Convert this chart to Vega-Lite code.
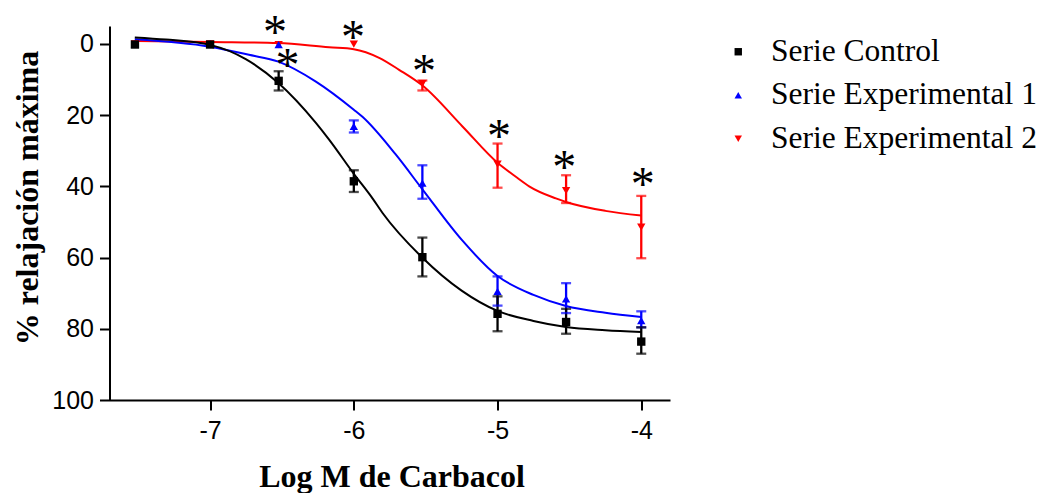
{
  "$schema": "https://vega.github.io/schema/vega-lite/v6.json",
  "width": 560.5,
  "height": 374,
  "autosize": {"type": "none"},
  "padding": {"left": 109.5, "top": 26, "right": 375, "bottom": 93},
  "background": "white",
  "config": {"view": {"stroke": null}},
  "datasets": {
    "curves": [
      {"s": "Serie Experimental 2", "x": -7.524, "y": -0.8},
      {"s": "Serie Experimental 2", "x": -7.0, "y": -0.5},
      {"s": "Serie Experimental 2", "x": -6.525, "y": -0.2},
      {"s": "Serie Experimental 2", "x": -6.172, "y": 1.0},
      {"s": "Serie Experimental 2", "x": -6.0, "y": 1.5},
      {"s": "Serie Experimental 2", "x": -5.82, "y": 4.0},
      {"s": "Serie Experimental 2", "x": -5.685, "y": 7.3},
      {"s": "Serie Experimental 2", "x": -5.52, "y": 11.8},
      {"s": "Serie Experimental 2", "x": -5.244, "y": 23.2},
      {"s": "Serie Experimental 2", "x": -5.0, "y": 33.4},
      {"s": "Serie Experimental 2", "x": -4.863, "y": 37.6},
      {"s": "Serie Experimental 2", "x": -4.78, "y": 40.0},
      {"s": "Serie Experimental 2", "x": -4.594, "y": 43.4},
      {"s": "Serie Experimental 2", "x": -4.524, "y": 44.4},
      {"s": "Serie Experimental 2", "x": -4.25, "y": 46.9},
      {"s": "Serie Experimental 2", "x": -4.0, "y": 48.2},
      {"s": "Serie Experimental 1", "x": -7.524, "y": -1.3},
      {"s": "Serie Experimental 1", "x": -7.0, "y": 0.8},
      {"s": "Serie Experimental 1", "x": -6.73, "y": 3.1},
      {"s": "Serie Experimental 1", "x": -6.525, "y": 5.0},
      {"s": "Serie Experimental 1", "x": -6.264, "y": 10.6},
      {"s": "Serie Experimental 1", "x": -6.0, "y": 18.5},
      {"s": "Serie Experimental 1", "x": -5.94, "y": 20.5},
      {"s": "Serie Experimental 1", "x": -5.71, "y": 31.0},
      {"s": "Serie Experimental 1", "x": -5.52, "y": 41.0},
      {"s": "Serie Experimental 1", "x": -5.25, "y": 55.0},
      {"s": "Serie Experimental 1", "x": -5.0, "y": 65.2},
      {"s": "Serie Experimental 1", "x": -4.75, "y": 70.5},
      {"s": "Serie Experimental 1", "x": -4.524, "y": 73.6},
      {"s": "Serie Experimental 1", "x": -4.25, "y": 75.5},
      {"s": "Serie Experimental 1", "x": -4.0, "y": 76.7},
      {"s": "Serie Control", "x": -7.524, "y": -1.8},
      {"s": "Serie Control", "x": -7.308, "y": -1.2},
      {"s": "Serie Control", "x": -7.0, "y": 0.3},
      {"s": "Serie Control", "x": -6.752, "y": 4.3},
      {"s": "Serie Control", "x": -6.525, "y": 11.0},
      {"s": "Serie Control", "x": -6.264, "y": 22.2},
      {"s": "Serie Control", "x": -6.172, "y": 26.9},
      {"s": "Serie Control", "x": -6.0, "y": 36.5},
      {"s": "Serie Control", "x": -5.87, "y": 43.4},
      {"s": "Serie Control", "x": -5.8, "y": 47.5},
      {"s": "Serie Control", "x": -5.524, "y": 60.0},
      {"s": "Serie Control", "x": -5.25, "y": 69.3},
      {"s": "Serie Control", "x": -5.0, "y": 75.0},
      {"s": "Serie Control", "x": -4.75, "y": 77.8},
      {"s": "Serie Control", "x": -4.524, "y": 79.5},
      {"s": "Serie Control", "x": -4.25, "y": 80.4},
      {"s": "Serie Control", "x": -4.0, "y": 80.9}
    ],
    "pts": [
      {"s": "Serie Experimental 2", "x": -7.523, "y": 0.0},
      {"s": "Serie Experimental 2", "x": -7.0, "y": 0.0},
      {"s": "Serie Experimental 2", "x": -6.523, "y": 0.2},
      {"s": "Serie Experimental 2", "x": -6.0, "y": 0.1},
      {"s": "Serie Experimental 2", "x": -5.523, "y": 11.2},
      {"s": "Serie Experimental 2", "x": -5.0, "y": 33.8},
      {"s": "Serie Experimental 2", "x": -4.523, "y": 41.2},
      {"s": "Serie Experimental 2", "x": -4.0, "y": 51.5},
      {"s": "Serie Experimental 1", "x": -7.523, "y": 0.0},
      {"s": "Serie Experimental 1", "x": -7.0, "y": 0.0},
      {"s": "Serie Experimental 1", "x": -6.523, "y": 0.2},
      {"s": "Serie Experimental 1", "x": -6.0, "y": 23.2},
      {"s": "Serie Experimental 1", "x": -5.523, "y": 39.1},
      {"s": "Serie Experimental 1", "x": -5.0, "y": 69.5},
      {"s": "Serie Experimental 1", "x": -4.523, "y": 71.6},
      {"s": "Serie Experimental 1", "x": -4.0, "y": 77.7},
      {"s": "Serie Control", "x": -7.523, "y": 0.2},
      {"s": "Serie Control", "x": -7.0, "y": 0.2},
      {"s": "Serie Control", "x": -6.523, "y": 10.4},
      {"s": "Serie Control", "x": -6.0, "y": 38.6},
      {"s": "Serie Control", "x": -5.523, "y": 59.9},
      {"s": "Serie Control", "x": -5.0, "y": 75.8},
      {"s": "Serie Control", "x": -4.523, "y": 78.1},
      {"s": "Serie Control", "x": -4.0, "y": 83.6}
    ],
    "err": [
      {"s": "Serie Experimental 2", "x": -5.523, "lo": 10.3, "hi": 13.1},
      {"s": "Serie Experimental 2", "x": -5.0, "lo": 28.0, "hi": 40.4},
      {"s": "Serie Experimental 2", "x": -4.523, "lo": 36.9, "hi": 44.7},
      {"s": "Serie Experimental 2", "x": -4.0, "lo": 42.7, "hi": 60.2},
      {"s": "Serie Experimental 1", "x": -6.0, "lo": 21.5, "hi": 24.9},
      {"s": "Serie Experimental 1", "x": -5.523, "lo": 34.1, "hi": 43.5},
      {"s": "Serie Experimental 1", "x": -5.0, "lo": 65.3, "hi": 73.5},
      {"s": "Serie Experimental 1", "x": -4.523, "lo": 67.2, "hi": 75.6},
      {"s": "Serie Experimental 1", "x": -4.0, "lo": 75.1, "hi": 79.6},
      {"s": "Serie Control", "x": -6.523, "lo": 7.7, "hi": 13.1},
      {"s": "Serie Control", "x": -6.0, "lo": 35.5, "hi": 41.6},
      {"s": "Serie Control", "x": -5.523, "lo": 54.4, "hi": 65.3},
      {"s": "Serie Control", "x": -5.0, "lo": 70.9, "hi": 80.7},
      {"s": "Serie Control", "x": -4.523, "lo": 74.4, "hi": 81.4},
      {"s": "Serie Control", "x": -4.0, "lo": 79.6, "hi": 87.0}
    ],
    "stars": [
      {"x": -6.548, "y": -5.2},
      {"x": -6.462, "y": 3.9},
      {"x": -6.005, "y": -3.8},
      {"x": -5.511, "y": 5.6},
      {"x": -4.989, "y": 23.8},
      {"x": -4.536, "y": 32.7},
      {"x": -3.99, "y": 37.4}
    ]
  },
  "encoding": {
    "x": {
      "field": "x",
      "type": "quantitative",
      "scale": {"domain": [-7.7, -3.8], "nice": false, "zero": false},
      "axis": {
        "values": [-7, -6, -5, -4],
        "labelExpr": "'' + datum.value",
        "grid": false,
        "domainColor": "#000000",
        "domainWidth": 2,
        "tickColor": "#000000",
        "tickWidth": 2,
        "tickSize": 10,
        "labelFont": "Liberation Sans",
        "labelFontSize": 25,
        "labelColor": "#000000",
        "labelPadding": 8,
        "labelFlush": false,
        "title": "Log M de Carbacol",
        "titleFont": "Liberation Serif",
        "titleFontSize": 32,
        "titleFontWeight": "bold",
        "titleColor": "#000000",
        "titleBaseline": "alphabetic",
        "titleAnchor": "middle",
        "titleX": 282,
        "titleY": 86
      }
    },
    "y": {
      "field": "y",
      "type": "quantitative",
      "scale": {"domain": [-5, 100], "nice": false, "zero": false, "reverse": true},
      "axis": {
        "values": [0, 20, 40, 60, 80, 100],
        "labelExpr": "'' + datum.value",
        "grid": false,
        "domainColor": "#000000",
        "domainWidth": 2,
        "tickColor": "#000000",
        "tickWidth": 2,
        "tickSize": 10,
        "labelFont": "Liberation Sans",
        "labelFontSize": 25,
        "labelColor": "#000000",
        "labelPadding": 6,
        "labelFlush": false,
        "title": "% relajación máxima",
        "titleFont": "Liberation Serif",
        "titleFontSize": 32,
        "titleFontWeight": "bold",
        "titleColor": "#000000",
        "titleBaseline": "alphabetic",
        "titleAngle": -90,
        "titleX": -72.5,
        "titleY": 171.5
      }
    }
  },
  "layer": [
    {
      "data": {"name": "curves"},
      "mark": {"type": "line", "interpolate": "monotone", "strokeWidth": 2},
      "encoding": {
        "stroke": {
          "field": "s",
          "type": "nominal",
          "scale": {"domain": ["Serie Experimental 2", "Serie Experimental 1", "Serie Control"], "range": ["#ff0000", "#0000ff", "#000000"]},
          "legend": null
        }
      }
    },
    {
      "data": {"name": "err"},
      "mark": {"type": "rule", "strokeWidth": 2.3},
      "encoding": {
        "y": {"field": "lo", "type": "quantitative", "title": "% relajación máxima"},
        "y2": {"field": "hi"},
        "stroke": {"field": "s", "type": "nominal", "legend": null}
      }
    },
    {
      "data": {"name": "err"},
      "transform": [{"fold": ["lo", "hi"], "as": ["k", "v"]}],
      "mark": {"type": "tick", "orient": "horizontal", "size": 10, "thickness": 2.3},
      "encoding": {
        "y": {"field": "v", "type": "quantitative", "title": "% relajación máxima"},
        "fill": {
          "field": "s",
          "type": "nominal",
          "scale": {"domain": ["Serie Experimental 1", "Serie Experimental 2", "Serie Control"], "range": ["#0000ff", "#ff0000", "#000000"]},
          "legend": null
        }
      }
    },
    {
      "data": {"name": "pts"},
      "mark": {"type": "point", "filled": true, "size": 70, "opacity": 1},
      "encoding": {
        "color": {
          "field": "s",
          "type": "nominal",
          "scale": {"domain": ["Serie Control", "Serie Experimental 1", "Serie Experimental 2"], "range": ["#000000", "#0000ff", "#ff0000"]},
          "legend": {
            "orient": "none",
            "legendX": 613,
            "legendY": 10,
            "title": null,
            "padding": 0,
            "labelFont": "Liberation Serif",
            "labelFontSize": 31.5,
            "labelColor": "#000000",
            "labelOffset": 17,
            "labelLimit": 400,
            "symbolSize": 55,
            "symbolStrokeWidth": 0,
            "rowPadding": 10.5
          }
        },
        "shape": {
          "field": "s",
          "type": "nominal",
          "scale": {"domain": ["Serie Control", "Serie Experimental 1", "Serie Experimental 2"], "range": ["square", "triangle-up", "triangle-down"]}
        }
      }
    },
    {
      "data": {"name": "stars"},
      "mark": {"type": "text", "text": "*", "font": "Liberation Serif", "fontSize": 48, "baseline": "middle", "align": "center", "dy": 9, "color": "#000000"}
    }
  ]
}
